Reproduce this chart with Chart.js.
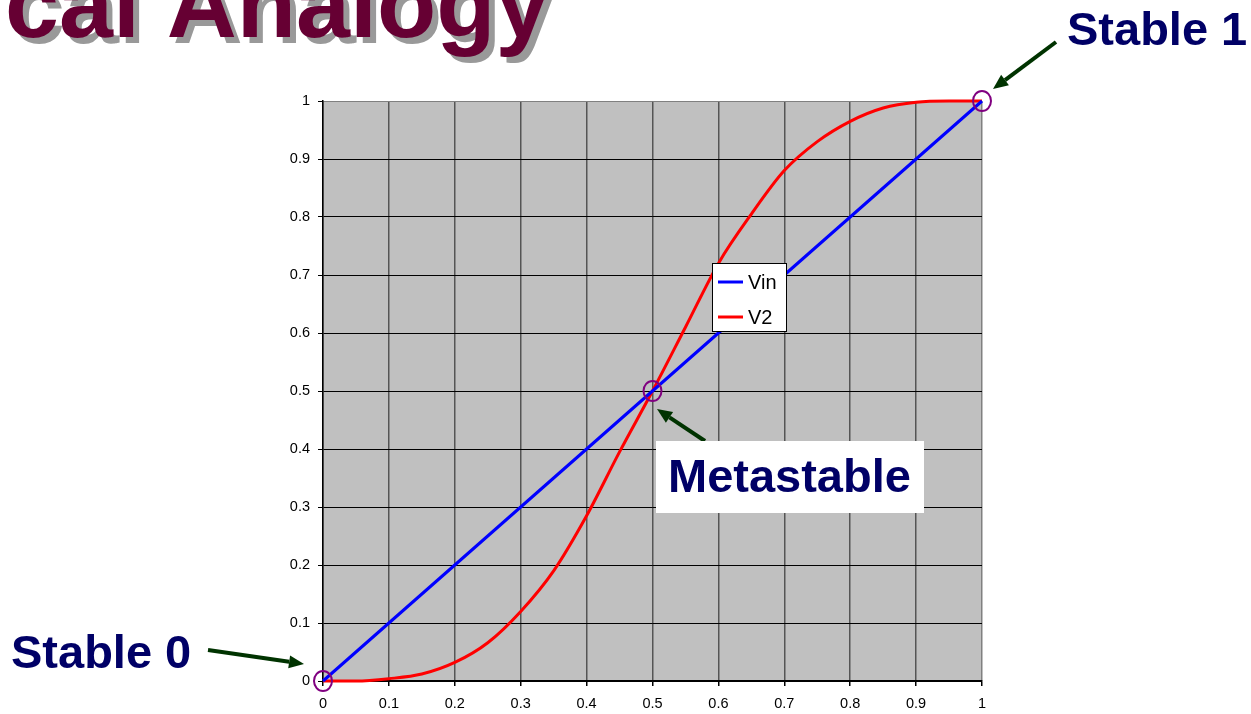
<!DOCTYPE html>
<html>
<head>
<meta charset="utf-8">
<script src="https://cdn.jsdelivr.net/npm/chart.js@4"></script>
<style>
  html, body { margin: 0; padding: 0; background: #fff; overflow: hidden; }
  canvas { display: block; }
</style>
</head>
<body>
<canvas id="chart" width="1251" height="714"></canvas>
<script>
// Input voltage sweep and the two transfer curves
const xValues   = [0, 0.05, 0.1, 0.15, 0.2, 0.25, 0.3, 0.35, 0.4, 0.45, 0.5, 0.55, 0.6, 0.65, 0.7, 0.75, 0.8, 0.85, 0.9, 0.95, 1];
const vinValues = [0, 0.05, 0.1, 0.15, 0.2, 0.25, 0.3, 0.35, 0.4, 0.45, 0.5, 0.55, 0.6, 0.65, 0.7, 0.75, 0.8, 0.85, 0.9, 0.95, 1];
const v2Values  = [0, 0.0, 0.004, 0.012, 0.032, 0.066, 0.12, 0.19, 0.285, 0.395, 0.5, 0.61, 0.72, 0.805, 0.88, 0.93, 0.965, 0.988, 0.998, 1.0, 1.0];
const seriesNames = ['Vin', 'V2'];

// Axis ticks
const tickValues = [0, 0.1, 0.2, 0.3, 0.4, 0.5, 0.6, 0.7, 0.8, 0.9, 1];
const tickLabels = ['0', '0.1', '0.2', '0.3', '0.4', '0.5', '0.6', '0.7', '0.8', '0.9', '1'];

// Equilibrium points marked with circles
const equilibriumPoints = [[0, 0], [0.5, 0.5], [1, 1]];

const NAVY = '#000066';
const ARROW = '#003300';
const FONT = '"Liberation Sans", Arial, sans-serif';

function drawArrow(ctx, x1, y1, x2, y2) {
  const ang = Math.atan2(y2 - y1, x2 - x1);
  const head = 15, half = 6.5;
  const bx = x2 - head * Math.cos(ang), by = y2 - head * Math.sin(ang);
  ctx.strokeStyle = ARROW;
  ctx.fillStyle = ARROW;
  ctx.lineWidth = 4;
  ctx.beginPath();
  ctx.moveTo(x1, y1);
  ctx.lineTo(bx, by);
  ctx.stroke();
  ctx.beginPath();
  ctx.moveTo(x2, y2);
  ctx.lineTo(bx - half * Math.sin(ang), by + half * Math.cos(ang));
  ctx.lineTo(bx + half * Math.sin(ang), by - half * Math.cos(ang));
  ctx.closePath();
  ctx.fill();
}

const decorations = {
  id: 'decorations',
  beforeDraw(chart) {
    const { ctx, chartArea: a } = chart;
    ctx.save();
    ctx.fillStyle = '#ffffff';
    ctx.fillRect(0, 0, chart.width, chart.height);
    ctx.fillStyle = '#c0c0c0';
    ctx.fillRect(a.left, a.top, a.right - a.left, a.bottom - a.top);
    ctx.restore();
  },
  afterDraw(chart) {
    const { ctx } = chart;
    const xs = chart.scales.x, ys = chart.scales.y;
    ctx.save();

    // Slide title (partly off the top-left edge)
    ctx.font = 'bold 97px ' + FONT;
    ctx.textBaseline = 'alphabetic';
    ctx.textAlign = 'left';
    const title = 'cal Analogy';
    ctx.fillStyle = '#999999';
    ctx.fillText(title, 11, 43);
    ctx.fillStyle = '#660033';
    ctx.fillText(title, 5, 37);

    // Circles at the equilibrium points
    ctx.strokeStyle = '#800080';
    ctx.lineWidth = 2;
    equilibriumPoints.forEach(([px, py]) => {
      ctx.beginPath();
      ctx.ellipse(xs.getPixelForValue(px), ys.getPixelForValue(py), 9, 10, 0, 0, Math.PI * 2);
      ctx.stroke();
    });

    // Legend box
    const lx = 712, ly = 263, lw = 74, lh = 68;
    ctx.fillStyle = '#ffffff';
    ctx.fillRect(lx, ly, lw, lh);
    ctx.strokeStyle = '#000000';
    ctx.lineWidth = 1;
    ctx.strokeRect(lx + 0.5, ly + 0.5, lw, lh);
    ctx.font = '20px ' + FONT;
    ctx.textBaseline = 'middle';
    ctx.textAlign = 'left';
    chart.data.datasets.forEach((ds, i) => {
      const y = 282 + i * 35;
      ctx.strokeStyle = ds.borderColor;
      ctx.lineWidth = 3;
      ctx.beginPath();
      ctx.moveTo(718, y);
      ctx.lineTo(743, y);
      ctx.stroke();
      ctx.fillStyle = '#000000';
      ctx.fillText(ds.label, 748, y + 1);
    });

    // Arrows
    drawArrow(ctx, 1056, 42, 993, 89);
    drawArrow(ctx, 208, 650, 304, 664);
    drawArrow(ctx, 705, 441, 657, 409);

    // Labels
    ctx.font = 'bold 47px ' + FONT;
    ctx.textBaseline = 'alphabetic';
    ctx.fillStyle = NAVY;
    ctx.fillText('Stable 1', 1067, 45);
    ctx.fillText('Stable 0', 11, 668);

    ctx.fillStyle = '#ffffff';
    ctx.fillRect(656, 441, 268, 72);
    ctx.fillStyle = NAVY;
    ctx.fillText('Metastable', 668, 492);

    ctx.restore();
  }
};

const toPoints = ys => xValues.map((x, i) => ({ x, y: ys[i] }));

new Chart(document.getElementById('chart'), {
  type: 'line',
  data: {
    datasets: [
      {
        label: seriesNames[0],
        data: toPoints(vinValues),
        borderColor: '#0000ff',
        borderWidth: 3,
        pointRadius: 0,
        tension: 0,
        clip: false
      },
      {
        label: seriesNames[1],
        data: toPoints(v2Values),
        borderColor: '#ff0000',
        borderWidth: 3,
        pointRadius: 0,
        cubicInterpolationMode: 'monotone',
        clip: false
      }
    ]
  },
  options: {
    responsive: false,
    animation: false,
    devicePixelRatio: 1,
    layout: { padding: { left: 0, top: 101, right: 269, bottom: 0 } },
    plugins: {
      legend: { display: false },
      tooltip: { enabled: false },
      title: { display: false }
    },
    scales: {
      x: {
        type: 'linear',
        min: 0,
        max: 1,
        afterBuildTicks: s => { s.ticks = tickValues.map(v => ({ value: v })); },
        afterFit: s => { s.height = 33; },
        ticks: {
          callback: (v, i) => tickLabels[i],
          font: { family: FONT, size: 14.5 },
          color: '#000',
          padding: 9,
          maxRotation: 0,
          autoSkip: false
        },
        grid: {
          color: c => (c.tick && c.tick.value === 1) ? '#808080' : '#555555',
          lineWidth: 1.5,
          tickLength: 5,
          tickColor: '#000'
        },
        border: { display: true, color: '#000', width: 1.5 }
      },
      y: {
        type: 'linear',
        min: 0,
        max: 1,
        afterBuildTicks: s => { s.ticks = tickValues.map(v => ({ value: v })); },
        afterFit: s => { s.width = 323; },
        ticks: {
          callback: (v, i) => tickLabels[i],
          font: { family: FONT, size: 14.5 },
          color: '#000',
          padding: 8,
          autoSkip: false
        },
        grid: {
          color: c => (c.tick && c.tick.value === 1) ? '#808080' : '#000000',
          lineWidth: 1,
          tickLength: 5,
          tickColor: '#000'
        },
        border: { display: true, color: '#000', width: 1.5 }
      }
    }
  },
  plugins: [decorations]
});
</script>
</body>
</html>
